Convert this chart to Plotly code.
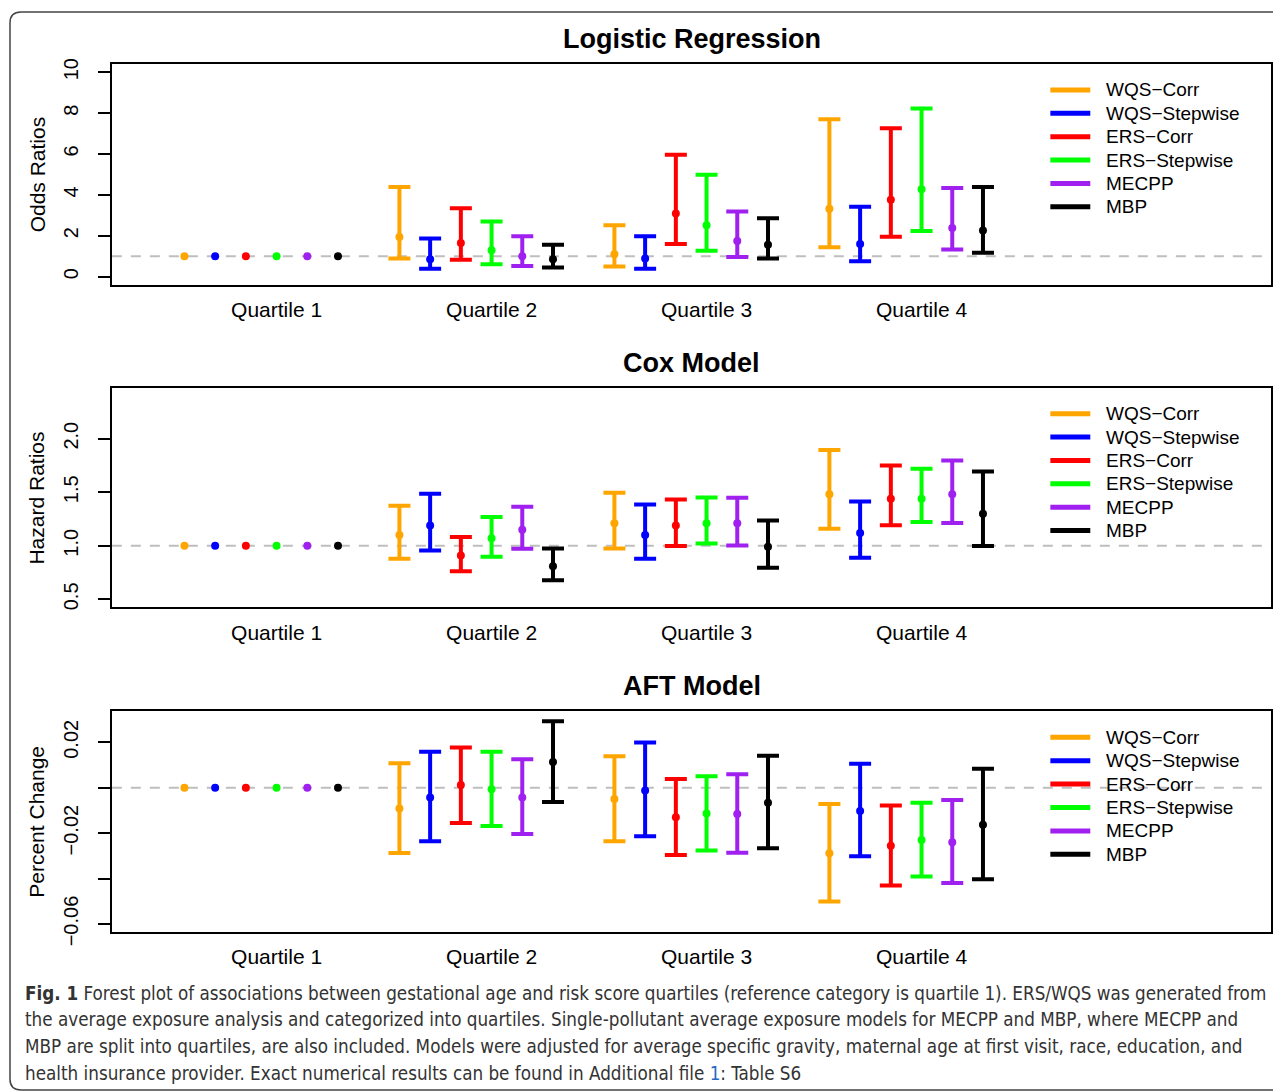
import plotly.graph_objects as go

# The page keeps the body's default 8px margin, so the figure is 1265 px wide.
# The photograph maps page rows with a small fixed vertical squeeze/offset, which we
# compensate for when placing things (VS, VB measured from earlier renders).
PAGE_OFF = 8
VS, VB = 0.9827, 5.1
W, H = 1281 - 2 * PAGE_OFF, 1098

quartiles = ["Quartile 1", "Quartile 2", "Quartile 3", "Quartile 4"]
series = ["WQS−Corr", "WQS−Stepwise", "ERS−Corr", "ERS−Stepwise", "MECPP", "MBP"]
colors = ["#FFA500", "#0000FF", "#FF0000", "#00FF00", "#A020F0", "#000000"]

# Logistic regression: odds ratios (rows = series, cols = quartiles)
lr_est = [[1, 1.94, 1.09, 3.32],
          [1, 0.85, 0.88, 1.60],
          [1, 1.64, 3.09, 3.76],
          [1, 1.29, 2.51, 4.27],
          [1, 0.99, 1.74, 2.38],
          [1, 0.85, 1.56, 2.26]]
lr_lo = [[1, 0.88, 0.49, 1.43],
         [1, 0.39, 0.39, 0.75],
         [1, 0.83, 1.60, 1.95],
         [1, 0.60, 1.27, 2.23],
         [1, 0.52, 0.96, 1.32],
         [1, 0.44, 0.88, 1.17]]
lr_hi = [[1, 4.38, 2.51, 7.70],
         [1, 1.86, 1.97, 3.42],
         [1, 3.34, 5.96, 7.26],
         [1, 2.69, 4.98, 8.22],
         [1, 1.97, 3.18, 4.33],
         [1, 1.56, 2.85, 4.38]]

# Cox model: hazard ratios
cox_est = [[1, 1.10, 1.21, 1.48],
           [1, 1.19, 1.10, 1.12],
           [1, 0.91, 1.19, 1.44],
           [1, 1.07, 1.21, 1.44],
           [1, 1.15, 1.21, 1.48],
           [1, 0.81, 0.99, 1.30]]
cox_lo = [[1, 0.88, 0.975, 1.16],
          [1, 0.957, 0.88, 0.889],
          [1, 0.762, 0.997, 1.191],
          [1, 0.898, 1.022, 1.222],
          [1, 0.972, 1.003, 1.213],
          [1, 0.679, 0.796, 0.997]]
cox_hi = [[1, 1.373, 1.494, 1.895],
          [1, 1.485, 1.386, 1.414],
          [1, 1.083, 1.432, 1.750],
          [1, 1.269, 1.451, 1.719],
          [1, 1.364, 1.448, 1.796],
          [1, 0.975, 1.235, 1.694]]

# AFT model: percent change
aft_est = [[0, -0.0092, -0.0050, -0.0289],
           [0, -0.0043, -0.0012, -0.0103],
           [0, 0.0012, -0.0130, -0.0255],
           [0, -0.0007, -0.0114, -0.0230],
           [0, -0.0043, -0.0116, -0.0240],
           [0, 0.0113, -0.0066, -0.0163]]
aft_lo = [[0, -0.0287, -0.0236, -0.0501],
          [0, -0.0236, -0.0214, -0.0302],
          [0, -0.0155, -0.0296, -0.0431],
          [0, -0.0169, -0.0276, -0.0391],
          [0, -0.0204, -0.0286, -0.0419],
          [0, -0.0063, -0.0267, -0.0403]]
aft_hi = [[0, 0.0108, 0.0139, -0.0072],
          [0, 0.0158, 0.0199, 0.0106],
          [0, 0.0177, 0.0038, -0.0078],
          [0, 0.0158, 0.0050, -0.0066],
          [0, 0.0125, 0.0059, -0.0054],
          [0, 0.0293, 0.0141, 0.0084]]

lr_ticks = [0, 2, 4, 6, 8, 10]
lr_ticktext = ["0", "2", "4", "6", "8", "10"]
cox_ticks = [0.5, 1.0, 1.5, 2.0]
cox_ticktext = ["0.5", "1.0", "1.5", "2.0"]
aft_ticks = [-0.06, -0.04, -0.02, 0.0, 0.02]
aft_ticktext = ["−0.06", "", "−0.02", "", "0.02"]


def fx(p):
    """target pixel x -> paper fraction"""
    return (p - PAGE_OFF) / W


def fy(p):
    """target pixel y -> paper fraction"""
    page_y = (p - VB) / VS
    return 1 - (page_y - PAGE_OFF) / H


FONT = "Liberation Sans, Arial, Helvetica, sans-serif"
BOX_L, BOX_R = 112, 1273          # plot box edges (px); figure ends at 1273
Q1_PX, Q_STEP_PX = 277, 215.33    # pixel of quartile 1 and spacing between quartiles
x_range = [1 + (BOX_L - Q1_PX) / Q_STEP_PX, 1 + (BOX_R - Q1_PX) / Q_STEP_PX]

panels = [
    dict(title="Logistic Regression", ytitle="Odds Ratios", est=lr_est, lo=lr_lo, hi=lr_hi,
         ref=1, yrange=[-0.4, 10.4], tv=lr_ticks, tt=lr_ticktext, top=63, bot=284, ttl_y=38),
    dict(title="Cox Model", ytitle="Hazard Ratios", est=cox_est, lo=cox_lo, hi=cox_hi,
         ref=1, yrange=[0.424, 2.476], tv=cox_ticks, tt=cox_ticktext, top=387, bot=607, ttl_y=362),
    dict(title="AFT Model", ytitle="Percent Change", est=aft_est, lo=aft_lo, hi=aft_hi,
         ref=0, yrange=[-0.0636, 0.0336], tv=aft_ticks, tt=aft_ticktext, top=711, bot=932, ttl_y=686),
]

fig = go.Figure()
annotations = []
shapes = []
layout = {}

LEG_LINE_X0, LEG_LINE_X1, LEG_TEXT_X, LEG_DY = 1052, 1092, 1106, 23.4

for p_i, p in enumerate(panels):
    sfx = "" if p_i == 0 else str(p_i + 1)
    xa, ya = "x" + sfx, "y" + sfx
    for s_i, name in enumerate(series):
        est, lo, hi = p["est"][s_i], p["lo"][s_i], p["hi"][s_i]
        xs = [q_i + 1 + (s_i - 3) / 7 for q_i in range(len(quartiles))]
        ci = [k for k in range(len(est)) if hi[k] != lo[k]]
        ref = [k for k in range(len(est)) if hi[k] == lo[k]]
        fig.add_trace(go.Scatter(
            x=[xs[k] for k in ci], y=[est[k] for k in ci], mode="markers",
            xaxis=xa, yaxis=ya, showlegend=False, name=name,
            marker=dict(color=colors[s_i], size=8),
            error_y=dict(type="data", symmetric=False,
                         array=[hi[k] - est[k] for k in ci],
                         arrayminus=[est[k] - lo[k] for k in ci],
                         color=colors[s_i], thickness=4, width=11),
            hoverinfo="skip"))
        fig.add_trace(go.Scatter(
            x=[xs[k] for k in ref], y=[est[k] for k in ref], mode="markers",
            xaxis=xa, yaxis=ya, showlegend=False, name=name,
            marker=dict(color=colors[s_i], size=8), hoverinfo="skip"))
        # legend entry (key line + label)
        ly = p["top"] + 26 + s_i * LEG_DY
        shapes.append(dict(type="line", xref="paper", yref="paper",
                           x0=fx(LEG_LINE_X0), x1=fx(LEG_LINE_X1), y0=fy(ly), y1=fy(ly),
                           line=dict(color=colors[s_i], width=5)))
        annotations.append(dict(text=name, xref="paper", yref="paper", x=fx(LEG_TEXT_X),
                                y=fy(ly), showarrow=False, xanchor="left", yanchor="middle",
                                font=dict(family=FONT, size=19, color="black")))

    dom_y = [fy(p["bot"]), fy(p["top"])]
    layout["xaxis" + sfx] = dict(
        domain=[fx(BOX_L), min(1.0, fx(BOX_R))], range=x_range, anchor=ya,
        tickvals=[1, 2, 3, 4], ticktext=quartiles, ticks="", showgrid=False, zeroline=False,
        showline=True, mirror=True, linecolor="black", linewidth=2,
        tickfont=dict(family=FONT, size=21, color="black"), ticklabelstandoff=5)
    layout["yaxis" + sfx] = dict(
        domain=dom_y, range=p["yrange"], anchor=xa,
        tickvals=p["tv"], ticktext=p["tt"], ticks="outside", ticklen=12, tickwidth=1.5,
        tickcolor="black", tickangle=-90, showgrid=False, zeroline=False,
        showline=True, mirror=True, linecolor="black", linewidth=2,
        tickfont=dict(family=FONT, size=20, color="black"), ticklabelstandoff=12)
    shapes.append(dict(type="line", xref=xa + " domain", yref=ya, x0=0, x1=1,
                       y0=p["ref"], y1=p["ref"], layer="below",
                       line=dict(color="#BEBEBE", width=2, dash="10px,9px")))
    annotations.append(dict(text="<b>" + p["title"] + "</b>", xref="paper", yref="paper",
                            x=fx((112 + 1274) / 2), y=fy(p["ttl_y"]), showarrow=False,
                            xanchor="center", yanchor="middle",
                            font=dict(family=FONT, size=27, color="black")))
    annotations.append(dict(text=p["ytitle"], xref="paper", yref="paper",
                            x=fx(37), y=fy((p["top"] + p["bot"]) / 2), showarrow=False,
                            textangle=-90, xanchor="center", yanchor="middle",
                            font=dict(family=FONT, size=21, color="black")))

CAP_FONT = "Liberation Sans Narrow, DejaVu Sans Condensed, Open Sans, sans-serif"
caption = [
    "<b>Fig. 1</b> Forest plot of associations between gestational age and risk score quartiles (reference category is quartile 1). ERS/WQS was generated from",
    "the average exposure analysis and categorized into quartiles. Single-pollutant average exposure models for MECPP and MBP, where MECPP and",
    "MBP are split into quartiles, are also included. Models were adjusted for average specific gravity, maternal age at first visit, race, education, and",
    "health insurance provider. Exact numerical results can be found in Additional file <span style='color:#2a66c4'>1</span>: Table S6",
]
cap_y = [993, 1019, 1046, 1073]
for line, yy in zip(caption, cap_y):
    annotations.append(dict(text=line, xref="paper", yref="paper", x=fx(23), y=fy(yy),
                            showarrow=False, xanchor="left", yanchor="middle",
                            font=dict(family=CAP_FONT, size=18.7, color="#333333")))


def P(x, y):
    return f"{fx(x):.5f},{fy(y):.5f}"


border = ("M " + P(1300, 11) + " L " + P(21, 11) + " Q " + P(10, 11) + " " + P(10, 22) +
          " L " + P(10, 1079) + " Q " + P(10, 1090) + " " + P(21, 1090) + " L " + P(1300, 1090))
shapes.append(dict(type="path", xref="paper", yref="paper", path=border,
                   line=dict(color="#444444", width=1.5)))

fig.update_layout(
    width=W, height=H, margin=dict(l=0, r=0, t=0, b=0),
    paper_bgcolor="white", plot_bgcolor="white",
    annotations=annotations, shapes=shapes, **layout)

fig.write_html("out.html", config={"displayModeBar": False},
               post_script="document.documentElement.style.overflow='hidden';"
                           "document.body.style.overflow='hidden';")
